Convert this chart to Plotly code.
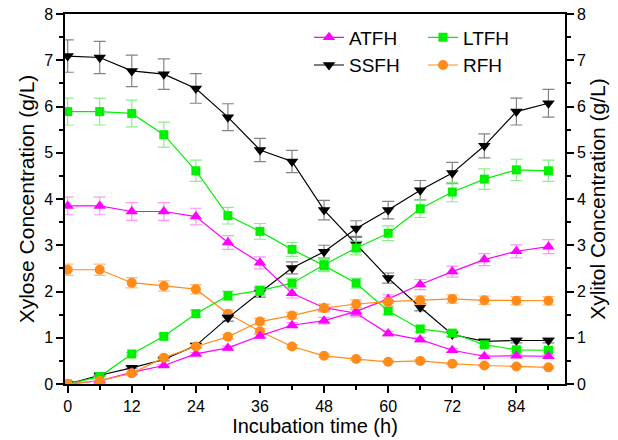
import plotly.graph_objects as go

# Sampling times (h)
time_h = [0, 6, 12, 18, 24, 30, 36, 42, 48, 54, 60, 66, 72, 78, 84, 90]

# Xylose (g/L) and its standard deviation, per hydrolysate
atfh_xylose = [3.85, 3.85, 3.73, 3.73, 3.62, 3.06, 2.62, 1.96, 1.65, 1.53, 1.09, 0.96, 0.73, 0.60, 0.61, 0.60]
atfh_xylose_sd = [0.19, 0.19, 0.19, 0.19, 0.18, 0.15, 0.13, 0.10, 0.08, 0.08, 0.05, 0.05, 0.04, 0.03, 0.03, 0.03]
ltfh_xylose = [5.89, 5.89, 5.85, 5.39, 4.61, 3.64, 3.30, 2.91, 2.56, 2.18, 1.58, 1.19, 1.10, 0.85, 0.74, 0.73]
ltfh_xylose_sd = [0.29, 0.29, 0.29, 0.27, 0.23, 0.18, 0.17, 0.15, 0.13, 0.11, 0.08, 0.06, 0.06, 0.04, 0.04, 0.04]
ssfh_xylose = [7.09, 7.06, 6.77, 6.70, 6.39, 5.77, 5.06, 4.81, 3.76, 3.02, 2.29, 1.66, 1.07, 0.92, 0.94, 0.94]
ssfh_xylose_sd = [0.35, 0.35, 0.34, 0.33, 0.32, 0.29, 0.25, 0.24, 0.21, 0.15, 0.11, 0.08, 0.05, 0.05, 0.05, 0.05]
rfh_xylose = [2.47, 2.47, 2.19, 2.12, 2.05, 1.52, 1.14, 0.81, 0.61, 0.54, 0.48, 0.50, 0.44, 0.40, 0.38, 0.36]
rfh_xylose_sd = [0.12, 0.12, 0.11, 0.11, 0.10, 0.08, 0.06, 0.04, 0.03, 0.03, 0.02, 0.03, 0.02, 0.02, 0.02, 0.02]

# Xylitol (g/L) and its standard deviation, per hydrolysate
atfh_xylitol = [0, 0.07, 0.25, 0.40, 0.65, 0.78, 1.04, 1.27, 1.37, 1.57, 1.84, 2.15, 2.43, 2.69, 2.87, 2.97]
atfh_xylitol_sd = [0, 0, 0.01, 0.02, 0.03, 0.04, 0.05, 0.06, 0.07, 0.08, 0.09, 0.11, 0.12, 0.13, 0.14, 0.15]
ltfh_xylitol = [0, 0.16, 0.65, 1.03, 1.52, 1.91, 2.02, 2.18, 2.58, 2.94, 3.26, 3.79, 4.15, 4.43, 4.63, 4.61]
ltfh_xylitol_sd = [0, 0.01, 0.03, 0.05, 0.08, 0.10, 0.10, 0.11, 0.13, 0.15, 0.16, 0.19, 0.21, 0.22, 0.23, 0.23]
ssfh_xylitol = [0, 0.19, 0.35, 0.53, 0.83, 1.43, 1.98, 2.51, 2.86, 3.36, 3.76, 4.19, 4.56, 5.15, 5.89, 6.07]
ssfh_xylitol_sd = [0, 0.01, 0.02, 0.03, 0.04, 0.07, 0.10, 0.13, 0.14, 0.17, 0.19, 0.21, 0.23, 0.26, 0.29, 0.30]
rfh_xylitol = [0, 0.07, 0.23, 0.57, 0.81, 1.02, 1.35, 1.48, 1.64, 1.73, 1.78, 1.81, 1.84, 1.81, 1.80, 1.80]
rfh_xylitol_sd = [0, 0, 0.01, 0.03, 0.04, 0.05, 0.07, 0.07, 0.08, 0.09, 0.09, 0.09, 0.09, 0.09, 0.09, 0.09]

x_ticks = [0, 12, 24, 36, 48, 60, 72, 84]
y_ticks = [0, 1, 2, 3, 4, 5, 6, 7, 8]

FONT = "Liberation Sans, Arial, sans-serif"

series = [
    # name, xylose, xylose sd, xylitol, xylitol sd, color, error color, symbol, size, legend
    ("SSFH", ssfh_xylose, ssfh_xylose_sd, ssfh_xylitol, ssfh_xylitol_sd,
     "#000000", "rgba(110,110,110,0.85)", "triangle-down", 11, "legend"),
    ("LTFH", ltfh_xylose, ltfh_xylose_sd, ltfh_xylitol, ltfh_xylitol_sd,
     "#00F000", "rgba(120,235,120,0.85)", "square", 9, "legend2"),
    ("ATFH", atfh_xylose, atfh_xylose_sd, atfh_xylitol, atfh_xylitol_sd,
     "#FF00FF", "rgba(255,130,255,0.85)", "triangle-up", 11, "legend"),
    ("RFH", rfh_xylose, rfh_xylose_sd, rfh_xylitol, rfh_xylitol_sd,
     "#FF8C1A", "rgba(255,180,110,0.9)", "circle", 10, "legend2"),
]

fig = go.Figure()
for name, xyl, xyl_sd, xol, xol_sd, color, ecolor, symbol, size, leg in series:
    common = dict(
        x=time_h,
        mode="lines+markers",
        name=name,
        line=dict(color=color, width=1.2),
        marker=dict(symbol=symbol, size=size, color=color, line=dict(width=0)),
        legend=leg,
    )
    fig.add_trace(go.Scatter(
        y=xyl, yaxis="y", showlegend=True, legendrank=1 if name in ("ATFH", "LTFH") else 2,
        error_y=dict(type="data", array=xyl_sd, visible=True, color=ecolor,
                     thickness=1.2, width=6),
        **common,
    ))
    fig.add_trace(go.Scatter(
        y=xol, yaxis="y2", showlegend=False,
        error_y=dict(type="data", array=xol_sd, visible=True, color=ecolor,
                     thickness=1.2, width=6),
        **common,
    ))

axis_common = dict(
    showline=True, linecolor="#000000", linewidth=1.5,
    ticks="outside", ticklen=7, tickwidth=1.5, tickcolor="#000000",
    showgrid=False, zeroline=False,
    tickfont=dict(family=FONT, size=16, color="#000000"),
)

fig.update_layout(
    width=618, height=440,
    margin=dict(l=65, r=53, t=14, b=56, autoexpand=False),
    paper_bgcolor="white", plot_bgcolor="white",
    font=dict(family=FONT, color="#000000"),
    xaxis=dict(
        range=[-0.5, 93.1], tickvals=x_ticks, mirror=True,
        minor=dict(dtick=6, tick0=0, ticks="outside", ticklen=4, tickwidth=1.5, tickcolor="#000000"),
        title=dict(text="Incubation time (h)", font=dict(family=FONT, size=20), standoff=4),
        **axis_common,
    ),
    yaxis=dict(
        range=[0, 8], tickvals=y_ticks,
        minor=dict(dtick=0.5, tick0=0, ticks="outside", ticklen=4, tickwidth=1.5, tickcolor="#000000"),
        title=dict(text="Xylose Concentration (g/L)", font=dict(family=FONT, size=21), standoff=4),
        **axis_common,
    ),
    yaxis2=dict(
        range=[0, 8], tickvals=y_ticks, overlaying="y", side="right",
        minor=dict(dtick=0.5, tick0=0, ticks="outside", ticklen=4, tickwidth=1.5, tickcolor="#000000"),
        title=dict(text="Xylitol Concentration (g/L)", font=dict(family=FONT, size=21), standoff=4),
        **axis_common,
    ),
    legend=dict(
        x=0.488, y=0.988, xanchor="left", yanchor="top",
        bgcolor="rgba(0,0,0,0)", font=dict(family=FONT, size=19),
        tracegroupgap=0, itemwidth=30, traceorder="normal",
    ),
    legend2=dict(
        x=0.716, y=0.988, xanchor="left", yanchor="top",
        bgcolor="rgba(0,0,0,0)", font=dict(family=FONT, size=19),
        tracegroupgap=0, itemwidth=30, traceorder="normal",
    ),
)

fig.write_html("out.html")
